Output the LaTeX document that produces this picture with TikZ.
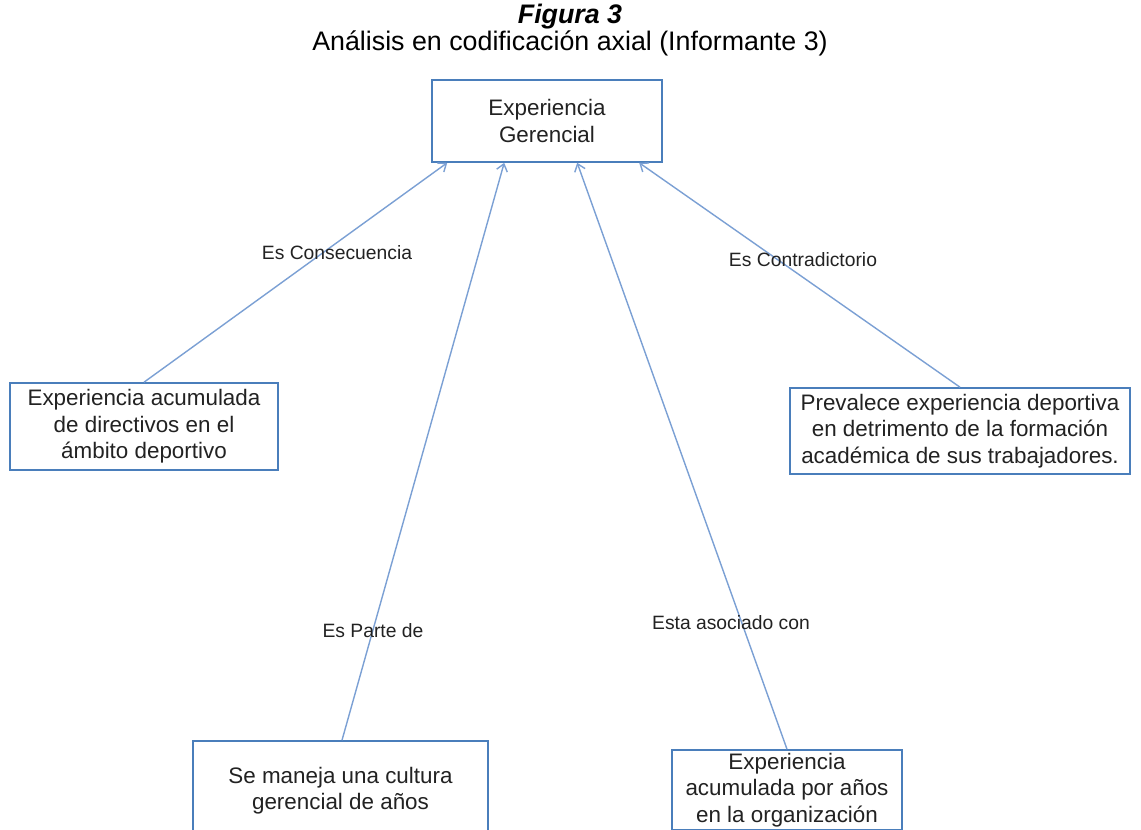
\documentclass[tikz,border=0pt]{standalone}
\usepackage{fontspec}
\setmainfont{Liberation Sans}
\usetikzlibrary{arrows.meta,calc}
\definecolor{boxblue}{HTML}{4A7EBB}
\definecolor{lineblue}{HTML}{7BA0D4}
\definecolor{ink}{HTML}{222222}
\begin{document}
\begin{tikzpicture}[x=1pt,y=-1pt,
  box/.style={draw=boxblue, line width=1.6pt, align=center, inner sep=0pt,
    font=\fontsize{22.4}{26.3}\selectfont, text=ink},
  link/.style={draw=lineblue, line width=1.4pt, -{Straight Barb[length=7pt,width=11pt]}},
  lbl/.style={font=\fontsize{19.3}{22}\selectfont, text=ink, inner sep=0pt}]
\useasboundingbox (0,0) rectangle (1141,830);
\clip (0,0) rectangle (1141,830);
\fill[white] (0,0) rectangle (1141,830);
% title
\node[font=\fontsize{26.8}{30}\selectfont\bfseries\itshape, text=black] (fig) at (570,17) {Figura 3};
\node[font=\fontsize{26.8}{30}\selectfont, text=black] (tit) at (570,43) {Análisis en codificación axial (Informante 3)};
% boxes
\node[box, minimum width=230pt, minimum height=82pt] (ger) at (547,121) {Experiencia\\Gerencial};
\node[box, minimum width=268pt, minimum height=87pt] (acum) at (144,426.5) {Experiencia acumulada\\de directivos en el\\ámbito deportivo};
\node[box, minimum width=340pt, minimum height=86pt] (prev) at (960,431) {Prevalece experiencia deportiva\\en detrimento de la formación\\académica de sus trabajadores.};
\node[box, minimum width=295pt, minimum height=100pt] (cult) at (340.5,791) {Se maneja una cultura\\gerencial de años};
\node[box, minimum width=230pt, minimum height=80pt] (org) at (787,790) {Experiencia\\acumulada por años\\en la organización};
% connectors
\draw[link] (acum.north) -- ($(ger.south west)+(16,0)$);
\draw[link] ($(cult.north)+(1.5,0)$) -- ($(ger.south west)+(73,0)$);
\draw[link] (org.north) -- ($(ger.south west)+(146,0)$);
\draw[link] (prev.north) -- ($(ger.south west)+(208,0)$);
% labels
\node[lbl] (l1) at (337,253) {Es Consecuencia};
\node[lbl] (l2) at (373,631) {Es Parte de};
\node[lbl] (l3) at (731,623) {Esta asociado con};
\node[lbl] (l4) at (803,260) {Es Contradictorio};
\end{tikzpicture}
\end{document}
